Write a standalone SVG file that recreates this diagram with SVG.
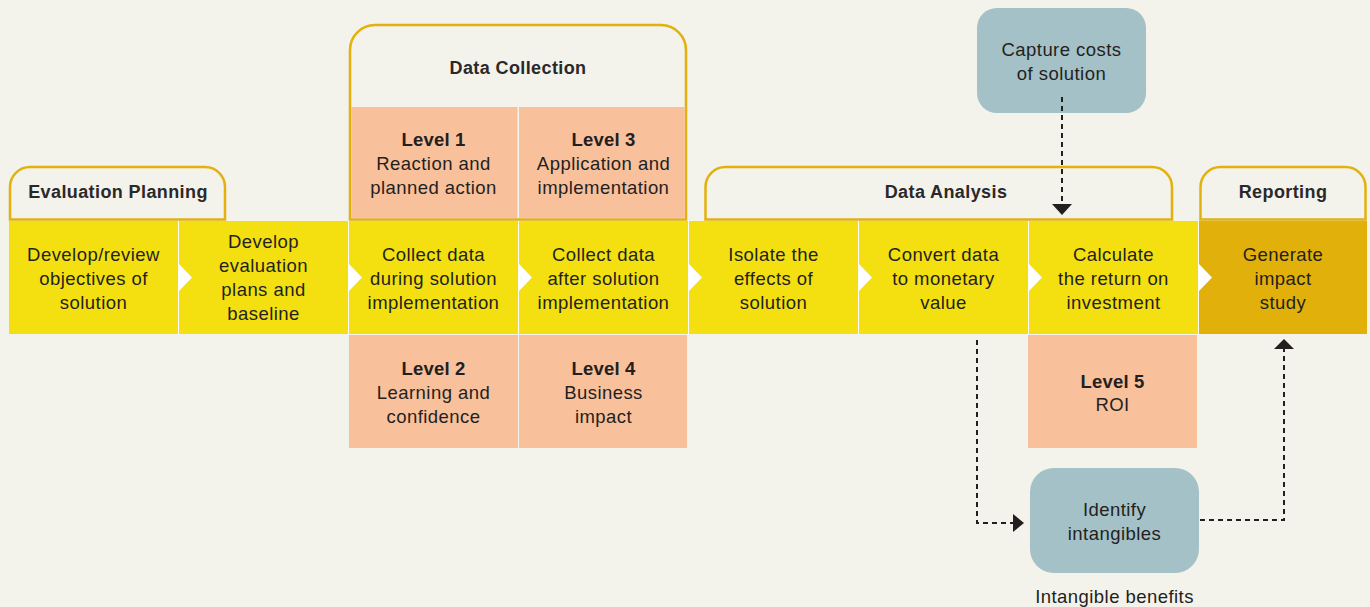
<svg xmlns="http://www.w3.org/2000/svg" width="1370" height="607" viewBox="0 0 1370 607">
<defs>
<style>
.t{font-family:"Liberation Sans",Arial,sans-serif;font-size:18.5px;fill:#231f20;text-anchor:middle;letter-spacing:0.45px}
.b{font-weight:bold;letter-spacing:0.2px}
.h{font-family:"Liberation Sans",Arial,sans-serif;font-size:18px;font-weight:bold;fill:#2b2829;text-anchor:middle;letter-spacing:0.4px}
.tab{fill:#f3f2eb;stroke:#e2b10c;stroke-width:2.5}
.cell{fill:#f4df10}
.pink{fill:#f9c09c}
.teal{fill:#a3c1c7}
.chev{fill:#ffffff}
.dash{fill:none;stroke:#231f20;stroke-width:2;stroke-dasharray:5 4}
.ah{fill:#231f20}
</style>
</defs>
<rect width="1370" height="607" fill="#f3f2eb"/>

<g id="tab-evaluation-planning">
<path class="tab" d="M10,219.5 V187 A20,20 0 0 1 30,167 H205 A20,20 0 0 1 225,187 V219.5 Z"/>
<text class="h" x="118" y="198">Evaluation Planning</text>
</g>

<g id="tab-data-collection">
<path class="tab" d="M350,219.5 V50 A25,25 0 0 1 375,25 H661 A25,25 0 0 1 686,50 V219.5 Z"/>
<text class="h" x="518" y="74">Data Collection</text>
</g>

<g id="tab-data-analysis">
<path class="tab" d="M705.5,219.5 V187 A20,20 0 0 1 725.5,167 H1152 A20,20 0 0 1 1172,187 V219.5 Z"/>
<text class="h" x="946" y="198">Data Analysis</text>
</g>

<g id="tab-reporting">
<path class="tab" d="M1200.5,219.5 V187 A20,20 0 0 1 1220.5,167 H1345.5 A20,20 0 0 1 1365.5,187 V219.5 Z"/>
<text class="h" x="1283" y="198">Reporting</text>
</g>

<rect x="9" y="221" width="1358" height="113" fill="#ffffff"/>

<g id="level1">
<rect class="pink" x="351.25" y="107" width="166.25" height="111.25"/>
<text class="t b" x="433.5" y="146">Level 1</text>
<text class="t" x="433.5" y="170">Reaction and</text>
<text class="t" x="433.5" y="194">planned action</text>
</g>

<g id="level3">
<rect class="pink" x="519" y="107" width="165.75" height="111.25"/>
<text class="t b" x="603.5" y="146">Level 3</text>
<text class="t" x="603.5" y="170">Application and</text>
<text class="t" x="603.5" y="194">implementation</text>
</g>

<g id="step1">
<rect class="cell" x="9" y="221" width="169" height="113"/>
<text class="t" x="93.5" y="261">Develop/review</text>
<text class="t" x="93.5" y="285">objectives of</text>
<text class="t" x="93.5" y="309">solution</text>
</g>

<g id="step2">
<rect class="cell" x="179" y="221" width="169" height="113"/>
<path class="chev" d="M179,264 L192,277.5 L179,291 Z"/>
<text class="t" x="263.5" y="248">Develop</text>
<text class="t" x="263.5" y="272">evaluation</text>
<text class="t" x="263.5" y="296">plans and</text>
<text class="t" x="263.5" y="320">baseline</text>
</g>

<g id="step3">
<rect class="cell" x="349" y="221" width="169" height="113"/>
<path class="chev" d="M349,264 L362,277.5 L349,291 Z"/>
<text class="t" x="433.5" y="261">Collect data</text>
<text class="t" x="433.5" y="285">during solution</text>
<text class="t" x="433.5" y="309">implementation</text>
</g>

<g id="step4">
<rect class="cell" x="519" y="221" width="169" height="113"/>
<path class="chev" d="M519,264 L532,277.5 L519,291 Z"/>
<text class="t" x="603.5" y="261">Collect data</text>
<text class="t" x="603.5" y="285">after solution</text>
<text class="t" x="603.5" y="309">implementation</text>
</g>

<g id="step5">
<rect class="cell" x="689" y="221" width="169" height="113"/>
<path class="chev" d="M689,264 L702,277.5 L689,291 Z"/>
<text class="t" x="773.5" y="261">Isolate the</text>
<text class="t" x="773.5" y="285">effects of</text>
<text class="t" x="773.5" y="309">solution</text>
</g>

<g id="step6">
<rect class="cell" x="859" y="221" width="169" height="113"/>
<path class="chev" d="M859,264 L872,277.5 L859,291 Z"/>
<text class="t" x="943.5" y="261">Convert data</text>
<text class="t" x="943.5" y="285">to monetary</text>
<text class="t" x="943.5" y="309">value</text>
</g>

<g id="step7">
<rect class="cell" x="1029" y="221" width="169" height="113"/>
<path class="chev" d="M1029,264 L1042,277.5 L1029,291 Z"/>
<text class="t" x="1113.5" y="261">Calculate</text>
<text class="t" x="1113.5" y="285">the return on</text>
<text class="t" x="1113.5" y="309">investment</text>
</g>

<g id="step8">
<rect x="1199" y="221" width="168" height="113" fill="#e1b00a"/>
<path class="chev" d="M1199,264 L1212,277.5 L1199,291 Z"/>
<text class="t" x="1283" y="261">Generate</text>
<text class="t" x="1283" y="285">impact</text>
<text class="t" x="1283" y="309">study</text>
</g>

<g id="level2">
<rect class="pink" x="349" y="335" width="169" height="113"/>
<text class="t b" x="433.5" y="375">Level 2</text>
<text class="t" x="433.5" y="399">Learning and</text>
<text class="t" x="433.5" y="423">confidence</text>
</g>

<g id="level4">
<rect class="pink" x="519" y="335" width="168" height="113"/>
<text class="t b" x="603.5" y="375">Level 4</text>
<text class="t" x="603.5" y="399">Business</text>
<text class="t" x="603.5" y="423">impact</text>
</g>

<g id="level5">
<rect class="pink" x="1028" y="335" width="169" height="113"/>
<text class="t b" x="1112.5" y="388">Level 5</text>
<text class="t" x="1112.5" y="411">ROI</text>
</g>

<g id="capture-costs">
<rect class="teal" x="977" y="8" width="169" height="105" rx="20"/>
<text class="t" x="1061.5" y="56">Capture costs</text>
<text class="t" x="1061.5" y="80">of solution</text>
</g>

<g id="identify-intangibles">
<rect class="teal" x="1030" y="468" width="169" height="105" rx="24"/>
<text class="t" x="1114.5" y="516">Identify</text>
<text class="t" x="1114.5" y="540">intangibles</text>
<text class="t" x="1114.5" y="603">Intangible benefits</text>
</g>

<g id="connectors">
<path class="dash" d="M1062,97 V204"/>
<path class="ah" d="M1052,204 L1072,204 L1062,215 Z"/>
<path class="dash" d="M977,340 V523 H1013"/>
<path class="ah" d="M1013,514 L1024,523 L1013,532 Z"/>
<path class="dash" d="M1200,520 H1284 V349"/>
<path class="ah" d="M1274,349 L1294,349 L1284,339 Z"/>
</g>
</svg>
